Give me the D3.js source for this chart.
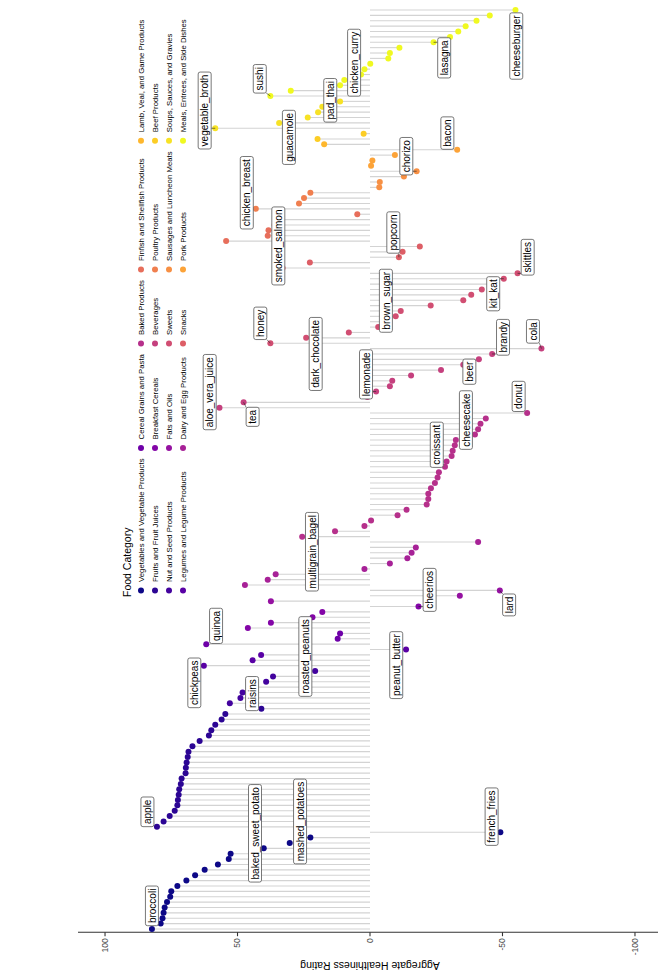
<!DOCTYPE html>
<html>
<head>
<meta charset="utf-8">
<script src="https://cdn.jsdelivr.net/npm/d3@7"></script>
<style>
  body { margin: 0; background: #fff; }
  text { font-family: "Liberation Sans", Arial, sans-serif; }
</style>
</head>
<body>
<div id="chart"></div>
<script>
// food categories, in legend order
const categories = [
  "Vegetables and Vegetable Products", "Fruits and Fruit Juices", "Nut and Seed Products", "Legumes and Legume Products",
  "Cereal Grains and Pasta", "Breakfast Cereals", "Fats and Oils", "Dairy and Egg Products",
  "Baked Products", "Beverages", "Sweets", "Snacks",
  "Finfish and Shellfish Products", "Poultry Products", "Sausages and Luncheon Meats", "Pork Products",
  "Lamb, Veal, and Game Products", "Beef Products", "Soups, Sauces, and Gravies", "Meals, Entrees, and Side Dishes"
];
// how many foods in each category (foods are stored in this order)
const categoryCounts = [19, 23, 7, 4, 3, 5, 3, 9, 24, 12, 14, 5, 6, 4, 4, 4, 1, 2, 6, 17];

// aggregate healthiness rating of every food, sorted inside each category
const ratings = [
  // vegetables
  82.3, 79.0, 78.3, 77.9, 77.5, 76.6, 75.4, 75.0, 72.7, 69.3, 66.0, 62.4, 57.4, 53.3, 52.6, 40.1, 30.3, 22.5, -49.2,
  // fruits
  80.4, 77.9, 75.6, 73.7, 72.7, 72.5, 72.2, 72.0, 71.4, 71.1, 69.6, 69.5, 69.2, 68.8, 68.5, 67.0, 64.3, 60.8, 59.9, 58.4, 56.0, 54.6, 41.0,
  // nuts
  52.9, 48.9, 48.1, 45.0, 39.2, 36.6, 20.7,
  // legumes
  62.7, 44.3, 41.1, -13.6,
  // cereal grains
  61.8, 12.2, 11.3,
  // breakfast cereals
  46.1, 37.4, 21.7, 18.0, -18.3,
  // fats
  37.4, -33.9, -49.0,
  // dairy
  47.2, 38.6, 35.6, 2.1, -7.5, -14.1, -15.7, -17.3, -40.8,
  // baked
  25.6, 13.2, 2.1, -0.4, -10.4, -13.8, -21.4, -22.0, -22.0, -23.0, -24.5, -25.5, -26.0, -28.3,
  -28.9, -30.8, -31.2, -32.0, -32.4, -39.6, -40.8, -41.7, -43.7, -59.3,
  // beverages
  56.8, 47.7, 1.0, -2.3, -7.5, -8.4, -15.5, -26.8, -35.2, -41.1, -46.1, -64.7,
  // sweets
  37.6, 24.1, 8.0, -3.1, -6.0, -9.7, -11.6, -22.9, -35.2, -38.2, -42.2, -46.5, -50.5, -55.7,
  // snacks
  33.0, 22.7, -10.9, -12.3, -18.8,
  // finfish
  54.3, 38.6, 38.3, 36.0, 33.5, 4.8,
  // poultry
  43.1, 26.8, 24.9, 22.5,
  // sausages
  -3.5, -3.7, -12.8, -17.6,
  // pork
  -0.4, -0.9, -9.4, -32.9,
  // lamb
  17.3,
  // beef
  19.8, 2.4,
  // soups
  58.4, 34.3, 23.5, 19.6, 18.0, 11.3,
  // meals
  37.6, 29.9, 11.3, 9.7, 3.4, 2.1, -0.1, -6.9, -7.5, -11.1, -24.0, -30.2, -33.3, -36.1, -40.2, -45.2, -54.9
];

// foods that get a label, and their position in the list above
const labelNames = ["broccoli", "baked_sweet_potato", "mashed_potatoes", "french_fries", "apple", "raisins",
  "roasted_peanuts", "chickpeas", "peanut_butter", "quinoa", "cheerios", "lard", "multigrain_bagel",
  "croissant", "cheesecake", "donut", "aloe_vera_juice", "tea", "lemonade", "beer", "brandy", "cola",
  "honey", "dark_chocolate", "brown_sugar", "kit_kat", "skittles", "popcorn", "smoked_salmon",
  "chicken_breast", "chorizo", "bacon", "vegetable_broth", "guacamole", "sushi", "pad_thai",
  "chicken_curry", "lasagna", "cheeseburger"];
const labelIndex = [0, 15, 17, 18, 19, 41, 48, 49, 52, 53, 60, 63, 73, 86, 92, 96, 97, 98, 100, 105, 107, 108,
  109, 110, 112, 121, 122, 125, 131, 134, 141, 145, 149, 150, 155, 157, 159, 165, 171];

const ticks = [100, 50, 0, -50, -100];

// where the repelled label boxes sit: [rating, food position] of the box centre
const labelSpot = [[82.3, 4.3], [43.4, 17.8], [26.4, 20.0], [-45.9, 20.9], [84.0, 21.8], [44.5, 43.8],
  [24.4, 50.7], [66.3, 45.8], [-9.9, 49.1], [58.1, 56.4], [-22.5, 63.1], [-52.5, 60.3], [21.9, 70.2],
  [-25.2, 90.1], [-36.2, 94.7], [-56.1, 99.1], [60.5, 99.9], [44.3, 95.3], [1.5, 103.2], [-37.5, 103.7],
  [-50.2, 110.1], [-61.5, 111.2], [41.4, 112.7], [20.5, 107.0], [-6.0, 116.9], [-46.5, 118.2],
  [-59.5, 125.0], [-8.8, 129.6], [34.6, 127.1], [46.5, 137.0], [-13.7, 143.8], [-29.2, 148.1],
  [62.4, 152.3], [30.6, 147.3], [41.6, 158.2], [15.0, 154.2], [6.0, 161.2], [-28.0, 162.1], [-55.2, 164.3]];

const width = 658, height = 978;

// one category per food
const foodCat = [];
categoryCounts.forEach((n, c) => { for (let k = 0; k < n; k++) foodCat.push(c); });
const foods = ratings.map((v, i) => ({ i: i, value: v, cat: foodCat[i] }));

const color = d3.scaleOrdinal()
  .domain(d3.range(categories.length))
  .range(d3.range(categories.length).map(k => d3.interpolatePlasma(k / (categories.length - 1))));

const svg = d3.select("#chart")
  .append("svg")
    .attr("width", width)
    .attr("height", height)
    .style("display", "block");

// plot is drawn turned a quarter turn: ratings run across, foods run up
const x = d3.scaleLinear()
  .domain([110.2, -110.2])
  .range([78, 662]);

const y = d3.scalePoint()
  .domain(d3.range(ratings.length))
  .range([932.2, 6.8])
  .padding(0.6);
const yRow = r => y(0) + (y(1) - y(0)) * r; // fractional rows for label boxes

// lollipop sticks
svg.append("g")
  .selectAll("line")
  .data(foods)
  .join("line")
    .attr("x1", x(0))
    .attr("x2", d => x(d.value))
    .attr("y1", d => y(d.i))
    .attr("y2", d => y(d.i))
    .attr("stroke", "#d3d3d3")
    .attr("stroke-width", 1.1);

// value axis (bottom)
const axisY = 932.2;
svg.append("line")
  .attr("x1", 78).attr("x2", width)
  .attr("y1", axisY).attr("y2", axisY)
  .attr("stroke", "#333").attr("stroke-width", 1.1);

const tickG = svg.append("g")
  .selectAll("g")
  .data(ticks)
  .join("g")
    .attr("transform", d => `translate(${x(d)},${axisY})`);
tickG.append("line")
  .attr("y2", 4)
  .attr("stroke", "#333").attr("stroke-width", 1.1);
tickG.append("text")
  .attr("transform", "translate(0,6) rotate(-90)")
  .attr("text-anchor", "end")
  .attr("dy", "0.35em")
  .style("font-size", "8.5px")
  .style("fill", "#4d4d4d")
  .text(d => d);

svg.append("text")
  .attr("transform", `translate(${x(0)},966) rotate(180)`)
  .attr("text-anchor", "middle")
  .attr("dy", "0.35em")
  .style("font-size", "10.5px")
  .text("Aggregate Healthiness Rating");

// points
svg.append("g")
  .selectAll("circle")
  .data(foods)
  .join("circle")
    .attr("cx", d => x(d.value))
    .attr("cy", d => y(d.i))
    .attr("r", 3)
    .attr("fill", d => color(d.cat));

// labels (like ggrepel boxes)
const labels = labelNames.map((name, k) => ({
  name: name,
  food: foods[labelIndex[k]],
  cx: x(labelSpot[k][0]),
  cy: yRow(labelSpot[k][1])
}));

const segG = svg.append("g"); // leader segments go under the boxes

const labG = svg.append("g")
  .selectAll("g")
  .data(labels)
  .join("g")
    .attr("transform", d => `translate(${d.cx},${d.cy}) rotate(-90)`);

labG.append("text")
  .attr("text-anchor", "middle")
  .attr("dy", "0.36em")
  .style("font-size", "10px")
  .text(d => d.name)
  .each(function(d) { d.len = this.getComputedTextLength(); });

const pad = 2.6, boxT = 13;

// little leader segments from box edge to point
segG.selectAll("line")
  .data(labels.filter(d => {
    const hx = boxT / 2, hy = d.len / 2 + pad;
    const px = x(d.food.value), py = y(d.food.i);
    d.ex = Math.max(d.cx - hx, Math.min(px, d.cx + hx));
    d.ey = Math.max(d.cy - hy, Math.min(py, d.cy + hy));
    return Math.hypot(px - d.ex, py - d.ey) > 3.5;
  }))
  .join("line")
    .attr("x1", d => d.ex).attr("y1", d => d.ey)
    .attr("x2", d => x(d.food.value)).attr("y2", d => y(d.food.i))
    .attr("stroke", "#222").attr("stroke-width", 0.6);

labG.insert("rect", "text")
  .attr("x", d => -d.len / 2 - pad)
  .attr("y", -boxT / 2)
  .attr("width", d => d.len + 2 * pad)
  .attr("height", boxT)
  .attr("rx", 2)
  .attr("fill", "white")
  .attr("stroke", "#555")
  .attr("stroke-width", 0.8);

// legend, turned as well: 4 rows across, 5 columns stacked upward
const legend = svg.append("g");
const legBase = 597, keySize = 13, textGap = 2, colGap = 4;
const legRowX = [141, 155, 169, 183];

legend.append("text")
  .attr("transform", `translate(127,${legBase}) rotate(-90)`)
  .attr("dy", "0.35em")
  .style("font-size", "10.5px")
  .text("Food Category");

const legItems = legend.selectAll("g.item")
  .data(categories.map((c, k) => ({ name: c, k: k, col: Math.floor(k / 4), row: k % 4 })))
  .join("g")
    .attr("class", "item");
legItems.append("text")
  .attr("dy", "0.35em")
  .style("font-size", "7.8px")
  .text(d => d.name)
  .each(function(d) { d.len = this.getComputedTextLength(); });

// column starts follow the longest text in each column
const colStart = [];
let cursor = legBase;
d3.range(5).forEach(c => {
  colStart.push(cursor);
  const longest = d3.max(legItems.data().filter(d => d.col === c), d => d.len);
  cursor -= keySize + textGap + longest + colGap;
});

legItems.attr("transform", d => `translate(${legRowX[d.row]},${colStart[d.col]})`);
legItems.append("circle")
  .attr("cy", -keySize / 2)
  .attr("r", 3)
  .attr("fill", d => color(d.k));
legItems.select("text")
  .attr("transform", `translate(0,${-keySize - textGap}) rotate(-90)`);
</script>
</body>
</html>
